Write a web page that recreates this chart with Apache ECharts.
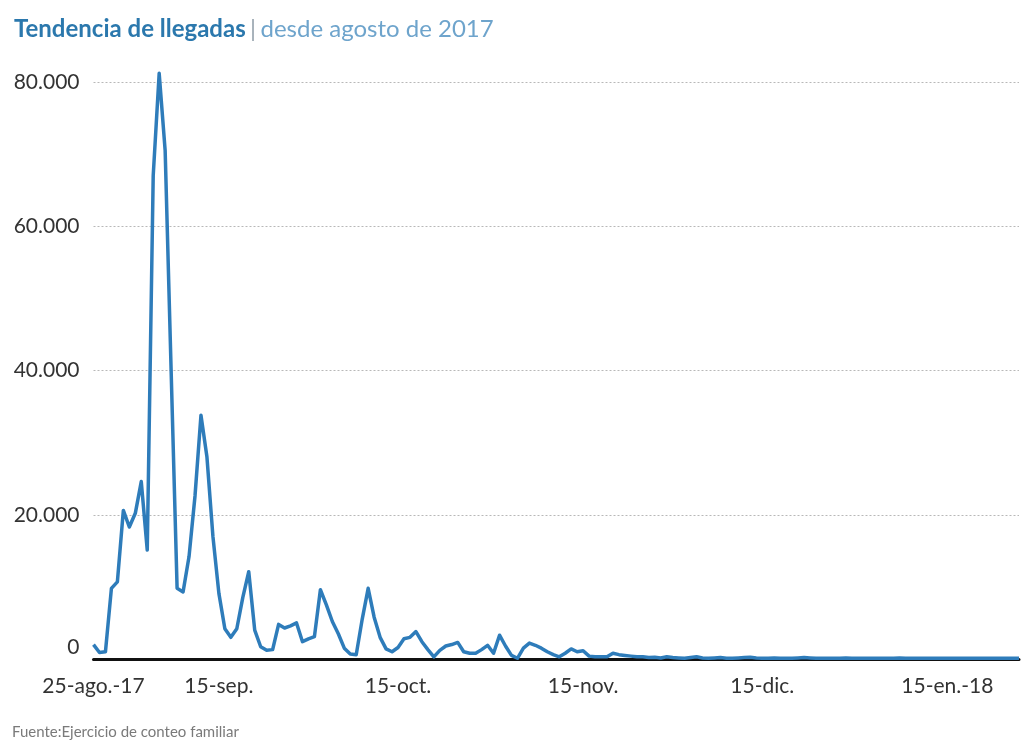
<!DOCTYPE html>
<html>
<head>
<meta charset="utf-8">
<script src="https://cdn.jsdelivr.net/npm/echarts@6/dist/echarts.min.js"></script>
<style>
html,body{margin:0;padding:0;background:#fff;}
#chart{width:1022px;height:744px;}
</style>
</head>
<body>
<div id="chart"></div>
<script>
// Daily arrivals starting 25 Aug 2017
const startDate = '2017-08-25';
const arrivals = [
  2000, 900, 1000, 9800, 10700, 20600, 18300, 20200, 24600, 15100,
  67000, 81200, 70500, 40000, 9800, 9300, 14200, 22600, 33800, 28000,
  17000, 9100, 4200, 3000, 4200, 8500, 12100, 4000, 1700, 1200,
  1300, 4800, 4300, 4600, 5000, 2400, 2800, 3100, 9600, 7500,
  5200, 3500, 1500, 700, 600, 5500, 9800, 5800, 3000, 1400,
  1000, 1600, 2800, 3000, 3800, 2400, 1300, 300, 1200, 1800,
  2000, 2300, 1000, 800, 800, 1300, 1900, 800, 3300, 1800,
  500, 100, 1500, 2200, 1900, 1500, 1000, 600, 300, 800,
  1400, 1000, 1150, 400, 300, 300, 300, 800, 600, 500,
  400, 300, 300, 200, 250, 150, 300, 200, 150, 100,
  200, 300, 150, 100, 150, 200, 100, 100, 150, 200,
  250, 150, 100, 100, 150, 100, 100, 100, 150, 200,
  150, 100, 100, 100, 100, 100, 150, 100, 100, 100,
  100, 100, 100, 100, 100, 150, 100, 100, 100, 100,
  100, 100, 100, 100, 100, 100, 100, 100, 100, 100,
  100, 100, 100, 100, 100, 100
];
const tickDates = ['2017-08-25', '2017-09-15', '2017-10-15', '2017-11-15', '2017-12-15', '2018-01-15'];
const tickLabels = ['25-ago.-17', '15-sep.', '15-oct.', '15-nov.', '15-dic.', '15-en.-18'];
const yTicks = [0, 20000, 40000, 60000, 80000];

// category list: one date per value
const days = [];
const t0 = Date.parse(startDate + 'T00:00:00Z');
for (let i = 0; i < arrivals.length; i++) {
  days.push(new Date(t0 + i * 86400000).toISOString().slice(0, 10));
}

const chart = echarts.init(document.getElementById('chart'), null, {renderer: 'canvas'});
chart.setOption({
  backgroundColor: '#ffffff',
  animation: false,
  textStyle: {fontFamily: 'Lato'},
  title: {
    left: 9,
    top: 12,
    text: '{a|Tendencia de llegadas} {c||} {b|desde agosto de 2017}',
    textStyle: {
      rich: {
        a: {fontFamily: 'Lato', fontWeight: 'bold', fontSize: 24, color: '#2b78ad'},
        c: {fontFamily: 'Lato', fontWeight: 'normal', fontSize: 24, color: '#9aa6b0'},
        b: {fontFamily: 'Lato', fontWeight: 'normal', fontSize: 24, color: '#6ea4cc'}
      }
    }
  },
  graphic: [{
    type: 'text',
    left: 12,
    top: 725,
    style: {text: 'Fuente:Ejercicio de conteo familiar', fontFamily: 'Lato', fontSize: 15, fill: '#7a7a7a'}
  }],
  grid: {left: 93.5, right: 3, top: 82, bottom: 85, containLabel: false},
  xAxis: {
    type: 'category',
    data: days,
    boundaryGap: false,
    axisLine: {show: true, lineStyle: {color: '#111', width: 3}},
    axisTick: {show: false},
    splitLine: {show: false},
    axisLabel: {
      interval: function (index, value) { return tickDates.indexOf(value) >= 0; },
      formatter: function (value) {
        const k = tickDates.indexOf(value);
        return k >= 0 ? tickLabels[k] : '';
      },
      margin: 17,
      fontFamily: 'Lato',
      fontSize: 21,
      color: '#333'
    }
  },
  yAxis: {
    type: 'value',
    min: yTicks[0],
    max: yTicks[yTicks.length - 1],
    interval: 20000,
    axisLine: {show: false},
    axisTick: {show: false},
    splitLine: {
      show: true,
      lineStyle: {color: '#b8b8b8', type: [2, 2], width: 1}
    },
    axisLabel: {
      margin: 14,
      fontFamily: 'Lato',
      fontSize: 21,
      color: '#333',
      formatter: function (v) {
        if (v === 0) return '{z|0}';
        return v.toLocaleString('de-DE');
      },
      rich: {
        z: {fontFamily: 'Lato', fontSize: 21, color: '#333', padding: [0, 0, 24, 0]}
      }
    }
  },
  series: [{
    type: 'line',
    data: arrivals,
    clip: false,
    symbol: 'none',
    smooth: false,
    lineStyle: {color: '#2e7cba', width: 3.5, join: 'round'},
    z: 5
  }]
});
</script>
</body>
</html>
